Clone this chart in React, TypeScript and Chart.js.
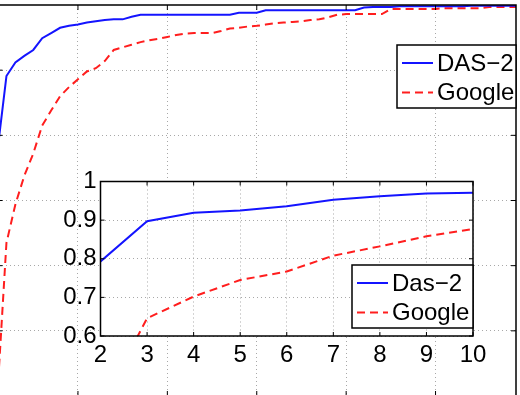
import React, { useEffect, useRef } from 'react';
import { Chart, registerables } from 'chart.js';

Chart.register(...registerables);

const FONT = '"Liberation Sans", Arial, Helvetica, sans-serif';
const BLUE = '#1414ff';
const RED = '#ff1e1e';
const RED_DASH = [8, 5];

// Full curve: recognition rate against rank
const RANKS = [
  1, 2, 3, 4, 5, 6, 7, 8, 9, 10, 11, 12, 13, 14, 15, 16, 17, 18, 19, 20,
  21, 22, 23, 24, 25, 26, 27, 28, 29, 30, 31, 32, 33, 34, 35, 36, 37, 38, 39, 40,
  41, 42, 43, 44, 45, 46, 47, 48, 49, 50, 51, 52, 53, 54, 55, 56, 57, 58, 59,
];
const DAS2_RATE = [
  0.777, 0.891, 0.912, 0.922, 0.931, 0.949, 0.957, 0.965, 0.968, 0.970,
  0.973, 0.975, 0.977, 0.978, 0.978, 0.982, 0.985, 0.985, 0.985, 0.985,
  0.985, 0.985, 0.985, 0.985, 0.985, 0.985, 0.985, 0.988, 0.988, 0.988,
  0.992, 0.992, 0.992, 0.992, 0.992, 0.992, 0.992, 0.992, 0.992, 0.992,
  0.992, 0.996, 0.997, 0.997, 0.997, 0.998, 0.998, 0.998, 0.998, 0.998,
  0.998, 0.998, 0.998, 0.999, 0.999, 0.999, 0.999, 0.999, 0.999,
];
const GOOGLE_RATE = [
  0.405, 0.635, 0.694, 0.738, 0.772, 0.815, 0.838, 0.860, 0.874, 0.886,
  0.898, 0.903, 0.914, 0.931, 0.935, 0.939, 0.943, 0.946, 0.948, 0.951,
  0.954, 0.956, 0.957, 0.957, 0.957, 0.960, 0.964, 0.965, 0.967, 0.968,
  0.970, 0.972, 0.973, 0.974, 0.975, 0.977, 0.978, 0.981, 0.985, 0.986,
  0.986, 0.986, 0.986, 0.986, 0.994, 0.994, 0.994, 0.994, 0.994, 0.994,
  0.995, 0.995, 0.995, 0.995, 0.995, 0.997, 0.997, 0.997, 0.997,
];
const MAIN_X_TICKS = [10, 20, 30, 40, 50];
const MAIN_Y_TICKS = [0.5, 0.6, 0.7, 0.8, 0.9];

// Close-up on ranks 2..10
const ZOOM_RANKS = [2, 3, 4, 5, 6, 7, 8, 9, 10];
const ZOOM_DAS2 = [0.793, 0.897, 0.919, 0.925, 0.936, 0.953, 0.962, 0.969, 0.971];
const ZOOM_GOOGLE = [0.415, 0.646, 0.702, 0.745, 0.767, 0.808, 0.832, 0.858, 0.877];
const ZOOM_X_LABELS = ['2', '3', '4', '5', '6', '7', '8', '9', '10'];
const ZOOM_Y_TICKS = [0.6, 0.7, 0.8, 0.9, 1];
const ZOOM_Y_LABELS = ['0.6', '0.7', '0.8', '0.9', '1'];

type LegendSpec = {
  width: number;
  height: number;
  anchor: 'top' | 'bottom';
  offset: number;
};

// Boxed axes with inward ticks on all four sides plus an in-plot legend
function boxedAxes(id: string, tickLen: number, legend: LegendSpec) {
  return {
    id,
    beforeDraw(chart: any) {
      const { ctx, chartArea: a } = chart;
      ctx.save();
      ctx.fillStyle = '#ffffff';
      ctx.fillRect(a.left, a.top, a.right - a.left, a.bottom - a.top);
      ctx.restore();
    },
    afterDatasetsDraw(chart: any) {
      const { ctx, chartArea: a, scales } = chart;
      ctx.save();
      ctx.strokeStyle = '#000';
      ctx.lineWidth = 1;
      ctx.beginPath();
      for (const t of scales.x.ticks) {
        const px = scales.x.getPixelForValue(t.value);
        ctx.moveTo(px, a.top);
        ctx.lineTo(px, a.top + tickLen);
        ctx.moveTo(px, a.bottom);
        ctx.lineTo(px, a.bottom - tickLen);
      }
      for (const t of scales.y.ticks) {
        const py = scales.y.getPixelForValue(t.value);
        ctx.moveTo(a.left, py);
        ctx.lineTo(a.left + tickLen, py);
        ctx.moveTo(a.right, py);
        ctx.lineTo(a.right - tickLen, py);
      }
      ctx.stroke();
      ctx.lineWidth = 1.5;
      ctx.strokeRect(a.left, a.top, a.right - a.left, a.bottom - a.top);

      // legend box anchored to the right border
      const right = a.right;
      const left = right - legend.width;
      const top = legend.anchor === 'top' ? a.top + legend.offset : a.bottom - legend.offset - legend.height;
      ctx.fillStyle = '#ffffff';
      ctx.fillRect(left, top, legend.width, legend.height);
      ctx.strokeStyle = '#000';
      ctx.lineWidth = 1.5;
      ctx.strokeRect(left, top, legend.width, legend.height);
      ctx.font = `24px ${FONT}`;
      ctx.textBaseline = 'middle';
      ctx.textAlign = 'left';
      chart.data.datasets.forEach((ds: any, i: number) => {
        const y = top + 18 + i * 29.5;
        ctx.strokeStyle = ds.borderColor;
        ctx.lineWidth = 2;
        ctx.setLineDash(ds.borderDash || []);
        ctx.beginPath();
        ctx.moveTo(left + 5, y);
        ctx.lineTo(left + 36, y);
        ctx.stroke();
        ctx.setLineDash([]);
        ctx.fillStyle = '#000';
        ctx.fillText(ds.label, left + 40, y + 1);
      });
      ctx.restore();
    },
  };
}

const gridColor = '#a8a8a8';

export default function App() {
  const mainRef = useRef<HTMLCanvasElement>(null);
  const zoomRef = useRef<HTMLCanvasElement>(null);

  useEffect(() => {
    const main = new Chart(mainRef.current!, {
      type: 'line',
      data: {
        datasets: [
          {
            label: 'DAS\u22122',
            data: RANKS.map((r, i) => ({ x: r, y: DAS2_RATE[i] })),
            borderColor: BLUE,
            borderWidth: 2,
            pointRadius: 0,
            tension: 0,
          },
          {
            label: 'Google',
            data: RANKS.map((r, i) => ({ x: r, y: GOOGLE_RATE[i] })),
            borderColor: RED,
            borderWidth: 2,
            borderDash: RED_DASH,
            pointRadius: 0,
            tension: 0,
          },
        ],
      },
      options: {
        responsive: false,
        animation: false,
        devicePixelRatio: 1,
        layout: { padding: { left: 17.5, top: 15, right: 24, bottom: 14 } },
        plugins: { legend: { display: false }, tooltip: { enabled: false } },
        scales: {
          x: {
            type: 'linear',
            min: 1,
            max: 59,
            afterBuildTicks: (s: any) => {
              s.ticks = MAIN_X_TICKS.map((v) => ({ value: v }));
            },
            afterFit: (s: any) => {
              s.height = 0;
            },
            ticks: { display: false },
            grid: { color: gridColor, lineWidth: 1, drawTicks: false },
            border: { display: false, dash: [1, 3] },
          },
          y: {
            type: 'linear',
            min: 0.4,
            max: 1,
            afterBuildTicks: (s: any) => {
              s.ticks = MAIN_Y_TICKS.map((v) => ({ value: v }));
            },
            afterFit: (s: any) => {
              s.width = 0;
            },
            ticks: { display: false },
            grid: { color: gridColor, lineWidth: 1, drawTicks: false },
            border: { display: false, dash: [1, 3] },
          },
        },
      },
      plugins: [boxedAxes('mainFrame', 5, { width: 119, height: 63, anchor: 'top', offset: 40 })],
    } as any);

    const zoom = new Chart(zoomRef.current!, {
      type: 'line',
      data: {
        datasets: [
          {
            label: 'Das\u22122',
            data: ZOOM_RANKS.map((r, i) => ({ x: r, y: ZOOM_DAS2[i] })),
            borderColor: BLUE,
            borderWidth: 2,
            pointRadius: 0,
            tension: 0,
          },
          {
            label: 'Google',
            data: ZOOM_RANKS.map((r, i) => ({ x: r, y: ZOOM_GOOGLE[i] })),
            borderColor: RED,
            borderWidth: 2,
            borderDash: RED_DASH,
            pointRadius: 0,
            tension: 0,
          },
        ],
      },
      options: {
        responsive: false,
        animation: false,
        devicePixelRatio: 1,
        layout: { padding: { left: 10.5, top: 21.5, right: 37, bottom: 14 } },
        plugins: { legend: { display: false }, tooltip: { enabled: false } },
        scales: {
          x: {
            type: 'linear',
            min: 2,
            max: 10,
            afterBuildTicks: (s: any) => {
              s.ticks = ZOOM_RANKS.map((v) => ({ value: v }));
            },
            afterFit: (s: any) => {
              s.height = 40;
            },
            ticks: {
              color: '#000',
              padding: 5,
              maxRotation: 0,
              autoSkip: false,
              font: { family: FONT, size: 24 },
              callback: (_v: any, i: number) => ZOOM_X_LABELS[i],
            },
            grid: { color: gridColor, lineWidth: 1, drawTicks: false },
            border: { display: false, dash: [1, 3] },
          },
          y: {
            type: 'linear',
            min: 0.6,
            max: 1,
            afterBuildTicks: (s: any) => {
              s.ticks = ZOOM_Y_TICKS.map((v) => ({ value: v }));
            },
            afterFit: (s: any) => {
              s.width = 60;
            },
            ticks: {
              color: '#000',
              padding: 4,
              autoSkip: false,
              font: { family: FONT, size: 24 },
              callback: (_v: any, i: number) => ZOOM_Y_LABELS[i],
            },
            grid: { color: gridColor, lineWidth: 1, drawTicks: false },
            border: { display: false, dash: [1, 3] },
          },
        },
      },
      plugins: [boxedAxes('zoomFrame', 4, { width: 121, height: 63, anchor: 'bottom', offset: 8 })],
    } as any);

    return () => {
      main.destroy();
      zoom.destroy();
    };
  }, []);

  return (
    <div
      style={{
        position: 'fixed',
        left: 0,
        top: 0,
        width: 520,
        height: 395,
        overflow: 'hidden',
        background: '#ffffff',
      }}
    >
      <canvas
        ref={mainRef}
        width={560}
        height={420}
        style={{ position: 'absolute', left: -20, top: -10, width: 560, height: 420 }}
      />
      <canvas
        ref={zoomRef}
        width={480}
        height={230}
        style={{ position: 'absolute', left: 30, top: 160, width: 480, height: 230 }}
      />
    </div>
  );
}
